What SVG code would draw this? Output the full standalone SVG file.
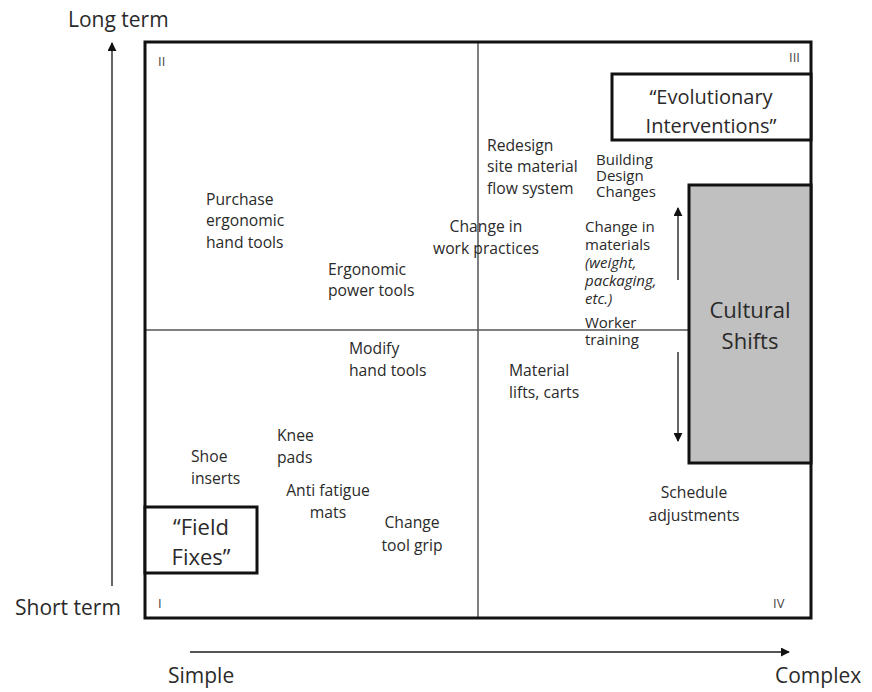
<svg xmlns="http://www.w3.org/2000/svg" width="872" height="692" viewBox="0 0 872 692">
<style>
text{font-family:"Open Sans","Liberation Sans",sans-serif;fill:#2a2a2a}
.t{font-size:15.7px}
.s{font-size:15px}
.ax{font-size:21px}
.rn{font-size:13px;fill:#444}
.frame{fill:none;stroke:#111;stroke-width:3}
.box{fill:#fff;stroke:#111;stroke-width:3}
.div{stroke:#555;stroke-width:1.5;fill:none}
.arr{stroke:#555;stroke-width:1.8;fill:none}
.mid{text-anchor:middle}
</style>
<defs>
<marker id="ah" viewBox="0 0 10 10" refX="9" refY="5" markerWidth="9" markerHeight="9" markerUnits="userSpaceOnUse" orient="auto">
<path d="M0,0 L10,5 L0,10 z" fill="#111"/>
</marker>
</defs>
<rect width="872" height="692" fill="#fff"/>
<g id="axes">
<text class="ax" x="68" y="27">Long term</text>
<text class="ax" x="15" y="615">Short term</text>
<text class="ax" x="168" y="683">Simple</text>
<text class="ax" x="775" y="683">Complex</text>
</g>
<g id="connectors">
<line class="arr" x1="112" y1="586" x2="112" y2="43" marker-end="url(#ah)"/>
<line class="arr" x1="190" y1="652" x2="789" y2="652" marker-end="url(#ah)"/>
<line class="arr" x1="678" y1="280" x2="678" y2="208" marker-end="url(#ah)"/>
<line class="arr" x1="678" y1="352" x2="678" y2="441" marker-end="url(#ah)"/>
</g>
<g id="quadrants">
<line class="div" x1="478" y1="42" x2="478" y2="618"/>
<line class="div" x1="145" y1="330" x2="689" y2="330"/>
<rect class="frame" x="145" y="42" width="666" height="576"/>
<text class="rn" x="158" y="66">II</text>
<text class="rn" x="789" y="62">III</text>
<text class="rn" x="158" y="608">I</text>
<text class="rn" x="773" y="608">IV</text>
</g>
<g id="evolutionary">
<rect class="box" x="612" y="74" width="199" height="66"/>
<text class="mid" x="711" y="104" font-size="20">“Evolutionary</text>
<text class="mid" x="711" y="133" font-size="20">Interventions”</text>
</g>
<g id="cultural">
<rect x="689" y="185" width="122" height="278" fill="#c0c0c0" stroke="#111" stroke-width="3"/>
<text class="mid" x="750" y="318" font-size="22">Cultural</text>
<text class="mid" x="750" y="349" font-size="22">Shifts</text>
</g>
<g id="fieldfixes">
<rect class="box" x="145" y="507" width="112" height="66"/>
<text class="mid" x="201" y="535" font-size="22">“Field</text>
<text class="mid" x="201" y="565" font-size="22">Fixes”</text>
</g>
<g id="purchase"><text class="t" x="206" y="205">Purchase</text><text class="t" x="206" y="226">ergonomic</text><text class="t" x="206" y="248">hand tools</text></g>
<g id="power"><text class="t" x="328" y="275">Ergonomic</text><text class="t" x="328" y="296">power tools</text></g>
<g id="modify"><text class="t" x="349" y="354">Modify</text><text class="t" x="349" y="376">hand tools</text></g>
<g id="practices"><text class="t mid" x="486" y="232">Change in</text><text class="t mid" x="486" y="254">work practices</text></g>
<g id="redesign"><text class="t" x="487" y="151">Redesign</text><text class="t" x="487" y="172">site material</text><text class="t" x="487" y="194">flow system</text></g>
<g id="building"><text class="s" x="596" y="165">Building</text><text class="s" x="596" y="181">Design</text><text class="s" x="596" y="197">Changes</text></g>
<g id="materials"><text class="s" x="585" y="232">Change in</text><text class="s" x="585" y="250">materials</text><text class="s" x="585" y="268" font-style="italic">(weight,</text><text class="s" x="585" y="286" font-style="italic">packaging,</text><text class="s" x="585" y="304" font-style="italic">etc.)</text></g>
<g id="worker"><text class="s" x="585" y="328">Worker</text><text class="s" x="585" y="345">training</text></g>
<g id="lifts"><text class="t" x="509" y="376">Material</text><text class="t" x="509" y="398">lifts, carts</text></g>
<g id="knee"><text class="t" x="277" y="441">Knee</text><text class="t" x="277" y="463">pads</text></g>
<g id="shoe"><text class="t" x="191" y="462">Shoe</text><text class="t" x="191" y="484">inserts</text></g>
<g id="mats"><text class="t mid" x="328" y="496">Anti fatigue</text><text class="t mid" x="328" y="518">mats</text></g>
<g id="grip"><text class="t mid" x="412" y="528">Change</text><text class="t mid" x="412" y="551">tool grip</text></g>
<g id="schedule"><text class="t mid" x="694" y="498">Schedule</text><text class="t mid" x="694" y="521">adjustments</text></g>
</svg>
